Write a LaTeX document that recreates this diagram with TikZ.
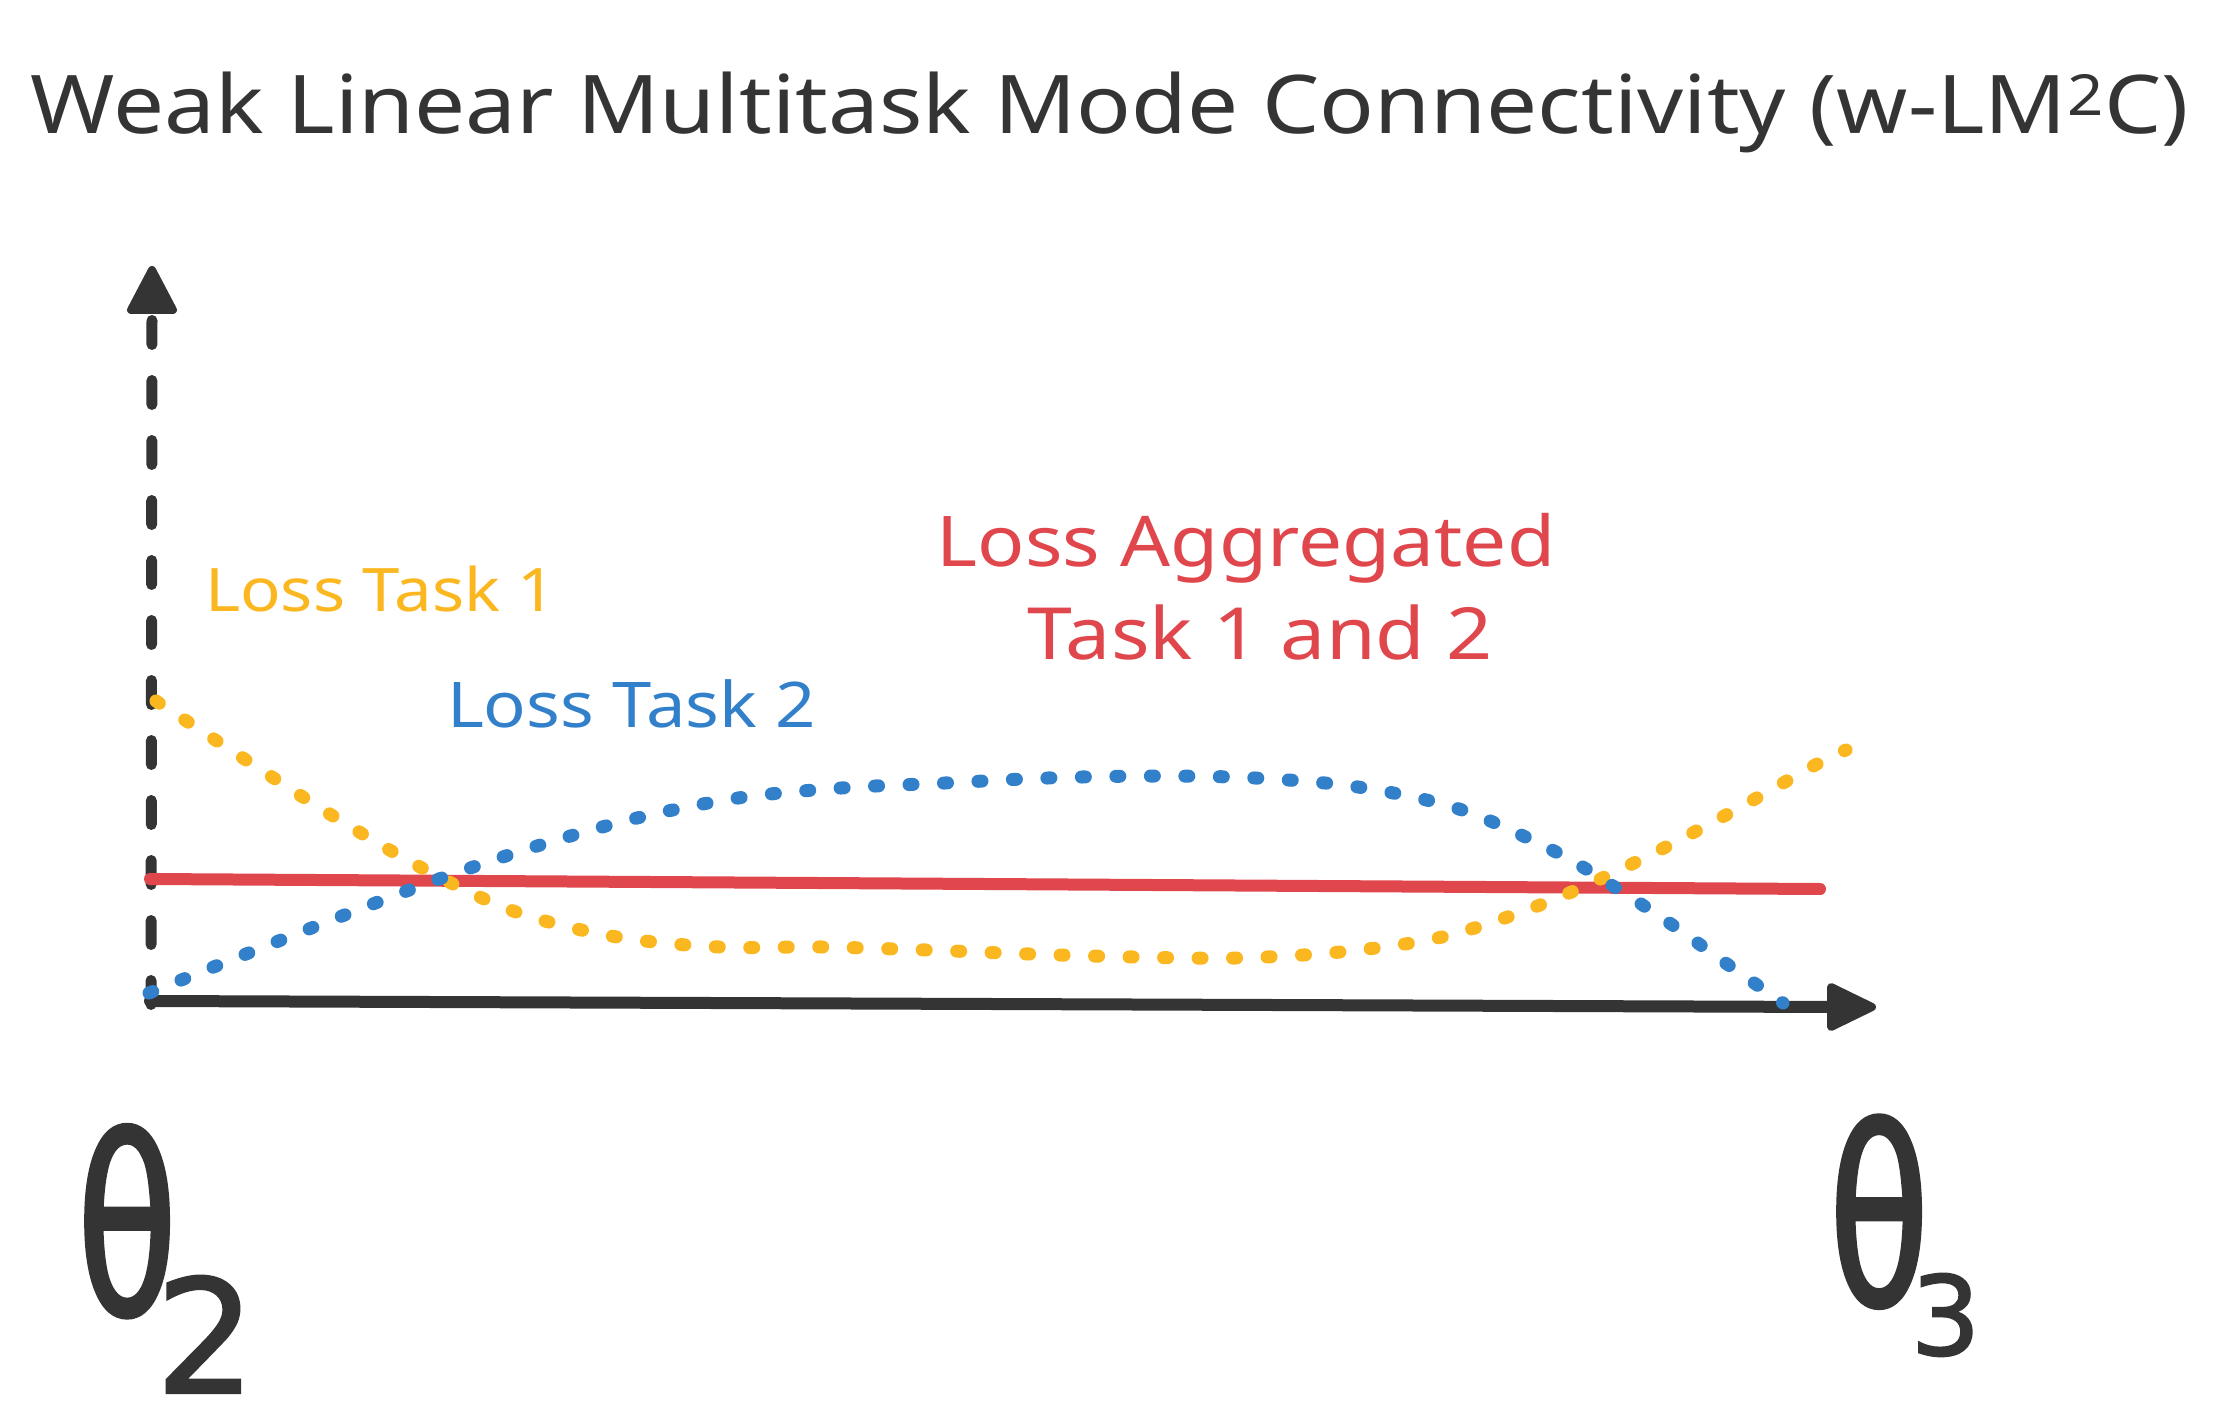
\documentclass[tikz,border=0pt]{standalone}
\usepackage{fontspec}
\newfontfamily\hand[FakeStretch=1.12]{Noto Sans}
\newfontfamily\thetaf[FakeStretch=0.66,FakeBold=1.5]{DejaVu Sans}
\newfontfamily\subf[FakeBold=1.5]{DejaVu Sans}
\definecolor{ink}{RGB}{52,52,52}
\definecolor{lossyellow}{RGB}{251,183,32}
\definecolor{lossblue}{RGB}{50,128,202}
\definecolor{lossred}{RGB}{224,71,76}
\begin{document}
\begin{tikzpicture}[x=0.5pt,y=-0.5pt,
  lbl/.style={inner sep=0pt, outer sep=0pt, font=\hand},
  axisline/.style={ink, line width=6pt, line cap=round},
  tipshape/.style={ink, fill=ink, line width=4pt, line join=round},
  dotted curve/.style={line width=6.5pt, line cap=round, dash pattern=on 2pt off 15.25pt},
  endlbl/.style={inner sep=0pt, outer sep=0pt, text=ink, anchor=base west},
]
\useasboundingbox (0,0) rectangle (2217,1427);

% title
\node[lbl, text=ink, anchor=base] (title) at (1110,134)
  {\fontsize{40.5pt}{48pt}\selectfont Weak Linear Multitask Mode Connectivity (w-LM\textsuperscript{2}C)};

% axes
\coordinate (yb) at (151,1004.5);
\coordinate (yt) at (152,320.5);
\coordinate (xb) at (150,1001);
\coordinate (xt) at (1835,1007);
\draw[axisline, line width=5.5pt, dash pattern=on 12pt off 18pt] (yb) -- (yt);
\draw[tipshape] (152,270) -- (131,310) -- (173,310) -- cycle;
\draw[axisline] (xb) -- (xt);
\draw[tipshape] (1872,1007) -- (1831,987) -- (1831,1027) -- cycle;

% aggregated loss
\coordinate (rs) at (150,879);
\coordinate (re) at (1820,889);
\draw[lossred, line width=6pt, line cap=round] (rs) -- (re);

% loss task 1
\draw[lossyellow, dotted curve] plot[smooth, tension=0.55] coordinates {
 (156,701) (246,760) (333,816) (422,868) (516,912) (617,937) (719,947)
 (822,947) (926,950) (1029,954) (1133,957) (1236,958) (1340,952)
 (1442,937) (1540,905) (1634,863) (1726,815) (1817,764) (1846,750)};

% loss task 2
\draw[lossblue, dotted curve] plot[smooth, tension=0.55] coordinates {
 (149,993) (246,954) (342,916) (439,879) (537,846) (637,818) (738,798)
 (841,788) (945,783) (1048,778) (1152,776) (1255,778) (1358,787)
 (1459,809) (1554,851) (1613,886) (1671,924) (1727,964) (1783,1003)};

% labels
\node[lbl, text=lossyellow, anchor=base west] (l1) at (205,612)
  {\fontsize{30pt}{36pt}\selectfont Loss Task 1};
\node[lbl, text=lossblue, anchor=base west] (l2) at (447,727)
  {\fontsize{31.5pt}{37pt}\selectfont Loss Task 2};
\node[lbl, text=lossred, anchor=base] (agg1) at (1246,567)
  {\fontsize{35pt}{42pt}\selectfont Loss Aggregated};
\node[lbl, text=lossred, anchor=base] (agg2) at (1260,660)
  {\fontsize{36pt}{43pt}\selectfont Task 1 and 2};

% endpoint labels
\node[endlbl] (th2) at (77,1315)
  {{\thetaf\fontsize{124pt}{130pt}\selectfont θ}\kern-11pt\raisebox{-39pt}{\subf\fontsize{79pt}{85pt}\selectfont 2}};
\node[endlbl] (th3) at (1829,1305.5)
  {{\thetaf\fontsize{124pt}{130pt}\selectfont θ}\kern-9.25pt\raisebox{-24.75pt}{\subf\fontsize{55pt}{60pt}\selectfont 3}};
\end{tikzpicture}
\end{document}
